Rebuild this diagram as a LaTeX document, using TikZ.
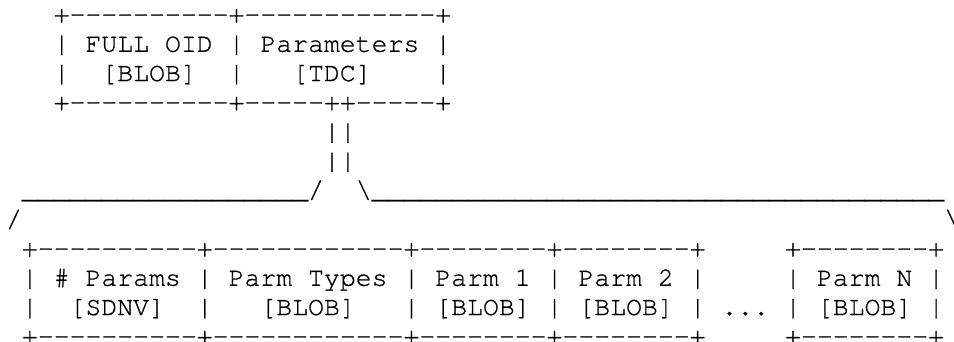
\documentclass[tikz,border=0pt]{standalone}
\usepackage{fontspec}
\setmonofont{TeX Gyre Cursor}[FakeBold=0.8]
\begin{document}
\begin{tikzpicture}[x=1pt,y=1pt,
  ascii/.style={anchor=base west, inner sep=0pt, outer sep=0pt,
    font=\ttfamily\fontsize{26.5}{29.25}\selectfont, text=black}]
% character grid: column width and line height of the monospaced layout
\def\cw{15.9}
\def\lh{29.25}
\def\xo{6}
\def\yo{22.5}
\useasboundingbox (0,0) rectangle (954,-341);
% record header: OID and parameter block
\node[ascii] (r0) at ({\xo+3*\cw},{-\yo-0*\lh}) {+----------+------------+};
\node[ascii] (r1) at ({\xo+3*\cw},{-\yo-1*\lh}) {|~FULL~OID~|~Parameters~|};
\node[ascii] (r2) at ({\xo+3*\cw},{-\yo-2*\lh}) {|~~[BLOB]~~|~~~[TDC]~~~~|};
\node[ascii] (r3) at ({\xo+3*\cw},{-\yo-3*\lh}) {+----------+-----++-----+};
% double stem down to the expansion brace
\node[ascii] (r4) at ({\xo+20*\cw},{-\yo-4*\lh}) {||};
\node[ascii] (r5) at ({\xo+20*\cw},{-\yo-5*\lh}) {||};
\node[ascii] (r6) at ({\xo+1*\cw},{-\yo-6*\lh})
  {\_\_\_\_\_\_\_\_\_\_\_\_\_\_\_\_\_\_/~~\textbackslash\_\_\_\_\_\_\_\_\_\_\_\_\_\_\_\_\_\_\_\_\_\_\_\_\_\_\_\_\_\_\_\_\_\_\_\_};
\node[ascii] (r7a) at ({\xo+0*\cw},{-\yo-7*\lh}) {/};
\node[ascii] (r7b) at ({\xo+59*\cw},{-\yo-7*\lh}) {\textbackslash};
% expanded parameter block
\node[ascii] (r8) at ({\xo+1*\cw},{-\yo-8*\lh}) {+----------+------------+--------+--------+~~~~~+--------+};
\node[ascii] (r9) at ({\xo+1*\cw},{-\yo-9*\lh}) {|~\#~Params~|~Parm~Types~|~Parm~1~|~Parm~2~|~~~~~|~Parm~N~|};
\node[ascii] (r10) at ({\xo+1*\cw},{-\yo-10*\lh}) {|~~[SDNV]~~|~~~[BLOB]~~~|~[BLOB]~|~[BLOB]~|~...~|~[BLOB]~|};
\node[ascii] (r11) at ({\xo+1*\cw},{-\yo-11*\lh}) {+----------+------------+--------+--------+~~~~~+--------+};
\end{tikzpicture}
\end{document}
